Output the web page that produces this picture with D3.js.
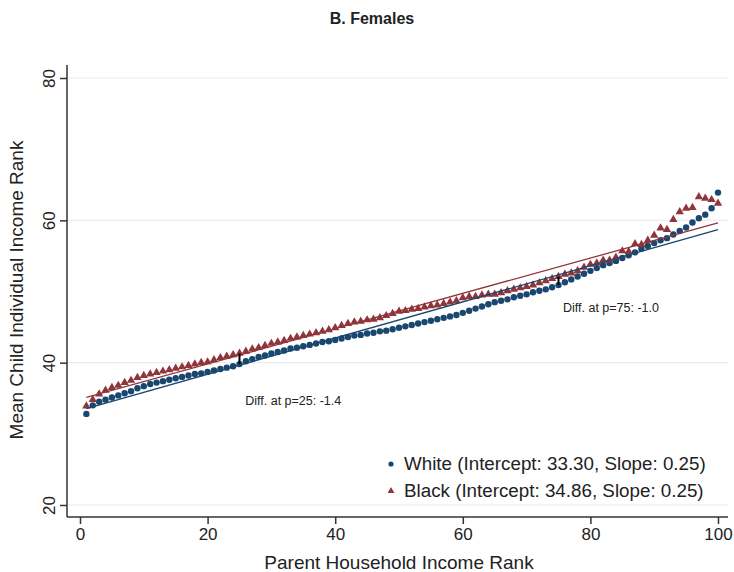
<!DOCTYPE html>
<html>
<head>
<meta charset="utf-8">
<script src="https://cdn.jsdelivr.net/npm/d3@7"></script>
<style>
  body { margin: 0; background: #fff; }
  svg { display: block; font-family: "Liberation Sans", Arial, sans-serif; }
</style>
</head>
<body>
<div id="chart"></div>
<script>
// parent income rank 1..100
var ranks = d3.range(1, 101)

// mean child rank, white females
var whiteVals = [
  32.8, 34.0, 34.5, 34.8, 35.1, 35.4, 35.7, 36.0, 36.4, 36.7,
  37.0, 37.2, 37.4, 37.6, 37.8, 38.0, 38.2, 38.4, 38.5, 38.7,
  38.9, 39.1, 39.3, 39.5, 39.8, 40.2, 40.5, 40.8, 41.0, 41.3,
  41.5, 41.7, 42.0, 42.1, 42.3, 42.5, 42.7, 42.9, 43.0, 43.2,
  43.4, 43.6, 43.8, 43.9, 44.1, 44.2, 44.4, 44.5, 44.7, 44.9,
  45.1, 45.3, 45.5, 45.7, 45.9, 46.1, 46.3, 46.5, 46.7, 47.0,
  47.3, 47.6, 47.9, 48.2, 48.5, 48.7, 48.9, 49.2, 49.4, 49.6,
  49.9, 50.1, 50.3, 50.6, 50.9, 51.3, 51.7, 52.1, 52.5, 52.9,
  53.3, 53.7, 54.0, 54.3, 54.7, 55.1, 55.5, 56.0, 56.4, 56.8,
  57.2, 57.5, 58.0, 58.5, 59.0, 59.7, 60.3, 60.8, 61.7, 63.9
]

// mean child rank, black females
var blackVals = [
  33.9, 34.8, 35.6, 36.1, 36.5, 36.8, 37.2, 37.5, 37.9, 38.2,
  38.4, 38.6, 38.8, 39.0, 39.2, 39.4, 39.6, 39.8, 40.0, 40.1,
  40.4, 40.7, 40.9, 41.1, 41.3, 41.6, 41.9, 42.1, 42.4, 42.7,
  42.9, 43.1, 43.4, 43.6, 43.8, 44.0, 44.2, 44.4, 44.6, 44.9,
  45.2, 45.5, 45.7, 45.8, 46.0, 46.1, 46.3, 46.6, 46.9, 47.2,
  47.3, 47.5, 47.6, 47.8, 48.0, 48.1, 48.3, 48.5, 48.7, 49.1,
  49.3, 49.3, 49.5, 49.6, 49.6, 49.8, 50.1, 50.3, 50.5, 50.7,
  50.9, 51.2, 51.5, 51.8, 52.1, 52.4, 52.6, 52.9, 53.4, 53.8,
  54.0, 54.4, 54.4, 54.8, 55.7, 55.6, 56.7, 56.6, 57.2, 57.9,
  58.9, 58.7, 60.1, 61.2, 61.7, 61.8, 63.3, 63.1, 62.9, 62.4
]

// linear fits (intercept, slope)
var fitWhite = [33.30, 0.254]
var fitBlack = [34.86, 0.248]

var xTicks = [0, 20, 40, 60, 80, 100]
var yTicks = [20, 40, 60, 80]

var legendLabels = ["White (Intercept: 33.30, Slope: 0.25)", "Black (Intercept: 34.86, Slope: 0.25)"]
var diffPoints = [25, 75]
var diffLabels = ["Diff. at p=25: -1.4", "Diff. at p=75: -1.0"]

var navy = "#1a476f", maroon = "#90353b"

var width = 734, height = 572
var plot = {left: 67, right: 728, top: 65, bottom: 517}

var svg = d3.select("#chart").append("svg")
  .attr("width", width)
  .attr("height", height)

var x = d3.scaleLinear().domain([0, 100]).range([80, 718])
var y = d3.scaleLinear().domain([20, 80]).range([505, 78])

// gridlines
svg.append("g")
  .selectAll("line")
  .data(yTicks)
  .join("line")
    .attr("x1", plot.left).attr("x2", plot.right)
    .attr("y1", d => y(d)).attr("y2", d => y(d))
    .attr("stroke", "#ececec")
    .attr("stroke-width", 1.2)

// y axis
var yAxis = svg.append("g")
  .attr("transform", `translate(${plot.left},0)`)
  .call(d3.axisLeft(y).tickValues(yTicks).tickSize(7).tickPadding(4))
yAxis.select(".domain").attr("d", `M0,${plot.top}V${plot.bottom}`).attr("stroke", "#333").attr("stroke-width", 1.5)
yAxis.selectAll(".tick line").attr("stroke", "#333").attr("stroke-width", 1.5)
yAxis.selectAll(".tick text")
  .attr("x", null).attr("dy", null)
  .attr("transform", "translate(-12,0) rotate(-90)")
  .attr("text-anchor", "middle")
  .style("font-size", "17px")
  .attr("fill", "#222")

// x axis
var xAxis = svg.append("g")
  .attr("transform", `translate(0,${plot.bottom})`)
  .call(d3.axisBottom(x).tickValues(xTicks).tickSize(7).tickPadding(4))
xAxis.select(".domain").attr("d", `M${plot.left},0H${plot.right}`).attr("stroke", "#333").attr("stroke-width", 1.5)
xAxis.selectAll(".tick line").attr("stroke", "#333").attr("stroke-width", 1.5)
xAxis.selectAll(".tick text")
  .style("font-size", "17px")
  .attr("fill", "#222")

// white dots
svg.append("g")
  .selectAll("circle")
  .data(ranks)
  .join("circle")
    .attr("cx", d => x(d))
    .attr("cy", (d, i) => y(whiteVals[i]))
    .attr("r", 3.2)
    .attr("fill", navy)

// black triangles
var tri = d3.symbol().type(d3.symbolTriangle).size(30)
svg.append("g")
  .selectAll("path")
  .data(ranks)
  .join("path")
    .attr("d", tri)
    .attr("transform", (d, i) => `translate(${x(d)},${y(blackVals[i])})`)
    .attr("fill", maroon)

// fitted lines
var fits = [[fitWhite, navy], [fitBlack, maroon]]
fits.forEach(f => {
  svg.append("line")
    .attr("x1", x(1)).attr("x2", x(100))
    .attr("y1", y(f[0][0] + f[0][1] * 1))
    .attr("y2", y(f[0][0] + f[0][1] * 100))
    .attr("stroke", f[1])
    .attr("stroke-width", 1.3)
})

// difference markers
svg.append("g")
  .selectAll("line")
  .data(diffPoints)
  .join("line")
    .attr("x1", d => x(d)).attr("x2", d => x(d))
    .attr("y1", d => y(whiteVals[d - 1]))
    .attr("y2", d => y(blackVals[d - 1]))
    .attr("stroke", "#000")
    .attr("stroke-width", 2)

// annotations
svg.append("text")
  .attr("x", x(25.9)).attr("y", y(34.1))
  .style("font-size", "12.5px").attr("fill", "#222")
  .text(diffLabels[0])
svg.append("text")
  .attr("x", x(75.7)).attr("y", y(47.1))
  .style("font-size", "12.5px").attr("fill", "#222")
  .text(diffLabels[1])

// legend
var leg = svg.append("g")
leg.append("circle").attr("cx", 391).attr("cy", 464).attr("r", 2.6).attr("fill", navy)
leg.append("path").attr("d", d3.symbol().type(d3.symbolTriangle).size(20)).attr("transform", "translate(391,491)").attr("fill", maroon)
leg.selectAll("text")
  .data(legendLabels)
  .join("text")
    .attr("x", 404)
    .attr("y", (d, i) => 470 + i * 27)
    .style("font-size", "18.8px")
    .attr("fill", "#222")
    .text(d => d)

// titles
svg.append("text")
  .attr("x", 372).attr("y", 24)
  .attr("text-anchor", "middle")
  .style("font-size", "16px").style("font-weight", "bold")
  .attr("fill", "#222")
  .text("B. Females")

svg.append("text")
  .attr("x", 399).attr("y", 569)
  .attr("text-anchor", "middle")
  .style("font-size", "19px")
  .attr("fill", "#222")
  .text("Parent Household Income Rank")

svg.append("text")
  .attr("transform", "translate(23,290) rotate(-90)")
  .attr("text-anchor", "middle")
  .style("font-size", "19px")
  .attr("fill", "#222")
  .text("Mean Child Individual Income Rank")
</script>
</body>
</html>
